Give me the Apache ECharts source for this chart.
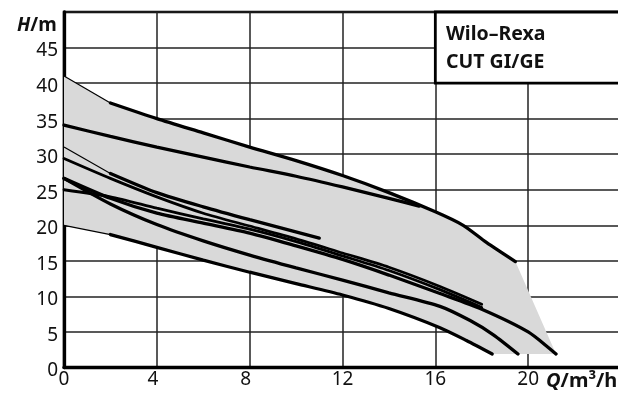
<!DOCTYPE html>
<html><head><meta charset="utf-8">
<script src="https://cdn.jsdelivr.net/npm/echarts@6/dist/echarts.min.js"></script>
<style>html,body{margin:0;padding:0;background:#fff;overflow:hidden}#c{width:618px;height:395px}</style>
</head><body><div id="c"></div>
<script>
// ---- data (Q in m³/h, H in m) ----
const topThinQ = [0, 2];
const topThinH = [41.0, 37.2];
const curveAQ = [2, 4, 6, 8, 10, 12, 14, 16, 17.2, 18.2, 19.45];
const curveAH = [37.2, 35.0, 33.0, 31.0, 29.1, 27.0, 24.6, 21.9, 20.0, 17.6, 14.9];
const curveBQ = [0, 2, 4, 6, 8, 10, 12, 14, 15.3];
const curveBH = [34.1, 32.5, 31.0, 29.6, 28.2, 26.9, 25.4, 23.8, 22.7];
const cThinQ = [0, 2];
const cThinH = [31.0, 27.3];
const curveCQ = [2, 4, 6, 8, 11];
const curveCH = [27.3, 24.6, 22.6, 20.8, 18.2];
const curveDQ = [0, 2, 4, 6, 8, 10, 12, 14, 16.2, 18.0];
const curveDH = [29.4, 26.6, 24.0, 21.7, 19.9, 18.1, 16.1, 14.1, 11.4, 8.9];
const curveFQ = [0, 2, 4, 6, 8, 10, 12, 14, 16.2, 18.0];
const curveFH = [25.0, 24.0, 22.4, 20.9, 19.45, 17.7, 15.7, 13.65, 10.95, 8.45];
const curveIQ = [0, 2, 4, 6, 8, 10, 12, 14, 16.2, 18, 20, 21.2];
const curveIH = [26.6, 23.8, 21.7, 20.3, 18.9, 17.1, 15.2, 13.0, 10.4, 8.2, 5.0, 1.9];
const curveHQ = [0, 2, 4, 6, 8, 10, 12, 14, 16.2, 17.5, 18.5, 19.56];
const curveHH = [26.6, 23.0, 20.1, 17.8, 15.8, 14.0, 12.3, 10.5, 8.6, 6.6, 4.6, 1.9];
const gThinQ = [0, 2];
const gThinH = [20.0, 18.7];
const curveGQ = [2, 4, 6, 8, 10, 12, 14, 16.2, 17.34, 18.45];
const curveGH = [18.7, 16.9, 15.1, 13.4, 11.8, 10.2, 8.3, 5.6, 3.8, 1.9];
const shadeEdgeQ = [21.2, 18.45];
const shadeEdgeH = [1.9, 1.9];
const legendLines = ['Wilo\u2013Rexa', 'CUT GI/GE'];
const legendBoxQ = [16, 24];
const legendBoxH = [40, 50];

const zip = (q, h) => q.map((v, i) => [v, h[i]]);
const shade = [].concat(
  zip(topThinQ, topThinH),
  zip(curveAQ, curveAH).slice(1),
  zip(shadeEdgeQ, shadeEdgeH),
  zip(curveGQ, curveGH).reverse(),
  zip(gThinQ, gThinH).reverse().slice(1)
);

const FONT = 'Noto Sans';
const thick = (name, q, h, extra) => Object.assign({
  name, type: 'line', data: zip(q, h), symbol: 'none', smooth: 0.25,
  lineStyle: { color: '#000', width: 3.3, cap: 'round' }, z: 5, silent: true
}, extra || {});
const thin = (name, q, h) => ({
  name, type: 'line', data: zip(q, h), symbol: 'none',
  lineStyle: { color: '#000', width: 1.2 }, z: 4, silent: true
});

const chart = echarts.init(document.getElementById('c'), null, { renderer: 'canvas' });
chart.setOption({
  animation: false,
  backgroundColor: '#fff',
  grid: { left: 64, top: 12, width: 557, height: 355.5, containLabel: false, outerBoundsMode: 'none',
          show: true, borderColor: '#000', borderWidth: 2.5, backgroundColor: 'transparent' },
  xAxis: {
    type: 'value', min: 0, max: 24, interval: 4,
    axisLine: { show: true, onZero: false, lineStyle: { color: '#000', width: 3.3 } },
    axisTick: { show: false },
    splitLine: { show: true, lineStyle: { color: '#222', width: 1.5 } },
    axisLabel: {
      margin: 3, fontFamily: FONT, fontSize: 19, color: '#111',
      formatter: v => (v === 24 ? '' : (v > 0 && v < 10 ? '{s|' + v + '}' : String(v))),
      rich: { s: { fontFamily: FONT, fontSize: 19, color: '#111', padding: [0, 8, 0, 0] } }
    }
  },
  yAxis: {
    type: 'value', min: 0, max: 50, interval: 5,
    axisLine: { show: true, onZero: false, lineStyle: { color: '#000', width: 3.3 } },
    axisTick: { show: false },
    splitLine: { show: true, lineStyle: { color: '#222', width: 1.5 } },
    axisLabel: {
      margin: 6, color: '#111',
      formatter: v => (v === 50 ? '' : '{t|' + v + '}'),
      rich: { t: { fontFamily: FONT, fontSize: 19, color: '#111', padding: [7, 0, 0, 0] } }
    }
  },
  series: [
    {
      type: 'custom', name: 'range', z: 2, silent: true, clip: true,
      data: [[0, 0]],
      renderItem: (params, api) => ({
        type: 'polygon',
        shape: { points: shade.map(p => api.coord(p)) },
        style: { fill: '#d9d9d9' }
      })
    },
    thin('A thin', topThinQ, topThinH),
    thick('A', curveAQ, curveAH, {
      markArea: {
        silent: true,
        itemStyle: { color: '#fff', borderColor: '#000', borderWidth: 2.8, opacity: 1 },
        data: [[{ coord: [legendBoxQ[0], legendBoxH[0]] }, { coord: [legendBoxQ[1], legendBoxH[1]] }]]
      }
    }),
    thick('B', curveBQ, curveBH),
    thin('C thin', cThinQ, cThinH),
    thick('C', curveCQ, curveCH),
    thick('D', curveDQ, curveDH, { lineStyle: { color: '#000', width: 2.8, cap: 'round' } }),
    thick('F', curveFQ, curveFH, { lineStyle: { color: '#000', width: 2.8, cap: 'round' } }),
    thick('I', curveIQ, curveIH),
    thick('H', curveHQ, curveHH),
    thin('G thin', gThinQ, gThinH),
    thick('G', curveGQ, curveGH)
  ],
  graphic: [
    {
      type: 'text', left: 446, top: 20, z: 100,
      style: { text: legendLines.join('\n'), font: 'bold 19.5px "Noto Sans"', fill: '#111', lineHeight: 28 }
    },
    {
      type: 'text', x: 17, y: 26, z: 100,
      style: {
        text: '{i|H}{n|/m}', verticalAlign: 'middle',
        rich: {
          i: { font: 'italic bold 19px "Noto Sans"', fill: '#111' },
          n: { font: 'bold 19px "Noto Sans"', fill: '#111' }
        }
      }
    },
    {
      type: 'text', x: 546, y: 381, z: 100,
      style: {
        text: '{i|Q}{n|/m³/h}', verticalAlign: 'middle',
        rich: {
          i: { font: 'italic bold 20px "Noto Sans"', fill: '#111' },
          n: { font: 'bold 20px "Noto Sans"', fill: '#111' }
        }
      }
    }
  ]
});
</script></body></html>
